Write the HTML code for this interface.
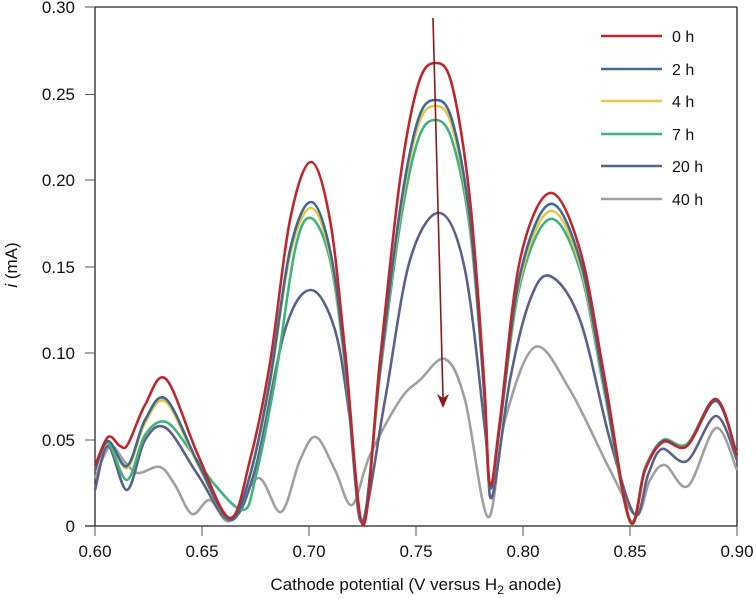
<!DOCTYPE html>
<html><head><meta charset="utf-8"><style>
html,body{margin:0;padding:0;background:#fff;}
svg{display:block;font-family:"Liberation Sans",Arial,sans-serif;}
</style></head><body>
<svg id="s" width="756" height="599" viewBox="0 0 756 599" xmlns="http://www.w3.org/2000/svg">
<rect width="756" height="599" fill="#fff"/>
<g stroke="#222" stroke-width="1.3" fill="none">
<line x1="95" y1="7" x2="737" y2="7"/>
<line x1="737" y1="7" x2="737" y2="526"/>
<line x1="95" y1="7" x2="95" y2="526"/>
<line x1="85" y1="526" x2="737" y2="526"/>
</g>
<g stroke="#555" stroke-width="1">
<line x1="85" y1="7" x2="95" y2="7"/><line x1="85" y1="94.5" x2="95" y2="94.5"/><line x1="85" y1="180" x2="95" y2="180"/><line x1="85" y1="267" x2="95" y2="267"/><line x1="85" y1="353" x2="95" y2="353"/><line x1="85" y1="440" x2="95" y2="440"/>
<line x1="95" y1="526" x2="95" y2="536"/><line x1="202" y1="526" x2="202" y2="536"/><line x1="309" y1="526" x2="309" y2="536"/><line x1="416" y1="526" x2="416" y2="536"/><line x1="523" y1="526" x2="523" y2="536"/><line x1="630" y1="526" x2="630" y2="536"/><line x1="737" y1="526" x2="737" y2="536"/>
</g>
<g font-size="17" fill="#111" text-anchor="end">
<text x="75" y="13">0.30</text><text x="75" y="100">0.25</text><text x="75" y="186">0.20</text><text x="75" y="273">0.15</text><text x="75" y="359">0.10</text><text x="75" y="446">0.05</text><text x="75" y="532">0</text>
</g>
<g font-size="17" fill="#111" text-anchor="middle">
<text x="95" y="557">0.60</text><text x="202" y="557">0.65</text><text x="309" y="557">0.70</text><text x="416" y="557">0.75</text><text x="523" y="557">0.80</text><text x="630" y="557">0.85</text><text x="737" y="557">0.90</text>
<text x="416" y="590">Cathode potential (V versus H<tspan font-size="12" dy="4">2</tspan><tspan dy="-4"> anode)</tspan></text>
</g>
<text transform="translate(17,265) rotate(-90)" font-size="17" fill="#111" text-anchor="middle"><tspan font-style="italic">i</tspan> (mA)</text>
<g id="curves" fill="none" stroke-width="2.6" stroke-linejoin="round"></g>
<g stroke-width="2.6">
<line x1="601" y1="36" x2="662" y2="36" stroke="#c0272d"/>
<line x1="601" y1="69" x2="662" y2="69" stroke="#3d6a93"/>
<line x1="601" y1="101" x2="662" y2="101" stroke="#e8c547"/>
<line x1="601" y1="134" x2="662" y2="134" stroke="#3fb37f"/>
<line x1="601" y1="166" x2="662" y2="166" stroke="#5a6288"/>
<line x1="601" y1="199" x2="662" y2="199" stroke="#a0a0a0"/>
</g>
<g font-size="16" fill="#111">
<text x="672" y="42">0 h</text><text x="672" y="75">2 h</text><text x="672" y="107">4 h</text><text x="672" y="140">7 h</text><text x="672" y="172">20 h</text><text x="672" y="205">40 h</text>
</g>
<line x1="433" y1="18" x2="443" y2="398" stroke="#8b1a1a" stroke-width="1.6"/>
<polygon points="443,408 437,394 443,398 449,394" fill="#8b1a1a"/>
</svg>
<script>
var S={
gray:["#a0a0a0",[[95,478],[110,446],[125,462],[138,473],[160,467],[175,485],[192,514],[210,500],[230,521],[258,478],[281,512],[300,460],[316,437],[335,470],[352,505],[370,455],[400,400],[420,380],[445,359],[465,400],[488,517],[505,420],[535,347],[570,390],[610,470],[636,515],[650,480],[665,465],[688,486],[716,428],[737,470]]],
h20:["#5a6288",[[95,490],[108,446],[127,490],[145,440],[166,428],[198,475],[230,520],[255,470],[285,330],[311,290],[335,330],[350,420],[362,522],[385,400],[410,260],[440,213],[465,270],[485,430],[492,497],[510,380],[530,300],[550,276],[580,320],[610,440],[635,515],[648,475],[662,449],[687,461],[716,416],[737,460]]],
green:["#3fb37f",[[95,470],[108,443],[127,480],[145,435],[166,422],[190,450],[215,485],[243,510],[255,480],[275,380],[295,250],[311,218],[330,260],[345,365],[362,522],[380,375],[400,225],[418,140],[435,120],[452,140],[470,230],[484,390],[490,488],[500,425],[520,285],[550,219],[580,270],[605,395],[630,520],[645,468],[663,440],[687,444],[716,399],[737,455]]],
yellow:["#e8c547",[[95,470],[108,441],[127,468],[145,423],[166,402],[198,465],[230,520],[250,476],[270,383],[290,255],[311,208],[330,255],[345,362],[362,522],[380,372],[400,215],[418,126],[435,106],[452,126],[470,224],[484,390],[490,488],[500,425],[520,280],[550,211],[580,265],[605,392],[630,522],[645,470],[663,441],[687,446],[716,400],[737,455]]],
blue:["#3d6a93",[[95,470],[108,441],[127,466],[145,420],[166,399],[198,463],[230,520],[250,475],[270,380],[290,250],[311,202],[330,250],[345,360],[362,522],[380,370],[400,210],[418,120],[435,100],[452,120],[470,220],[484,390],[490,488],[500,425],[520,275],[550,204],[580,260],[605,390],[630,521],[645,470],[663,441],[687,446],[716,401],[737,455]]],
red:["#c0272d",[[95,466],[108,437],[120,446],[128,444],[145,405],[166,379],[198,455],[230,518],[250,460],[270,363],[290,220],[311,162],[330,220],[345,350],[363,525],[380,360],[400,180],[418,85],[435,63],[452,85],[470,200],[484,380],[490,485],[500,420],[520,260],[550,193],[580,250],[605,380],[630,521],[645,470],[663,442],[687,446],[716,399],[737,455]]]
};
var g=document.getElementById("curves");
for(var k in S){var c=S[k][0],p=S[k][1],d="M"+p[0][0]+","+p[0][1];
for(var i=0;i<p.length-1;i++){var p0=p[i-1]||p[i],p1=p[i],p2=p[i+1],p3=p[i+2]||p2;
var c1x=p1[0]+(p2[0]-p0[0])/6,c1y=p1[1]+(p2[1]-p0[1])/6,c2x=p2[0]-(p3[0]-p1[0])/6,c2y=p2[1]-(p3[1]-p1[1])/6;
d+=" C"+c1x.toFixed(1)+","+c1y.toFixed(1)+" "+c2x.toFixed(1)+","+c2y.toFixed(1)+" "+p2[0]+","+p2[1];}
var e=document.createElementNS("http://www.w3.org/2000/svg","path");e.setAttribute("d",d);e.setAttribute("stroke",c);g.appendChild(e);}
</script>
</body></html>
